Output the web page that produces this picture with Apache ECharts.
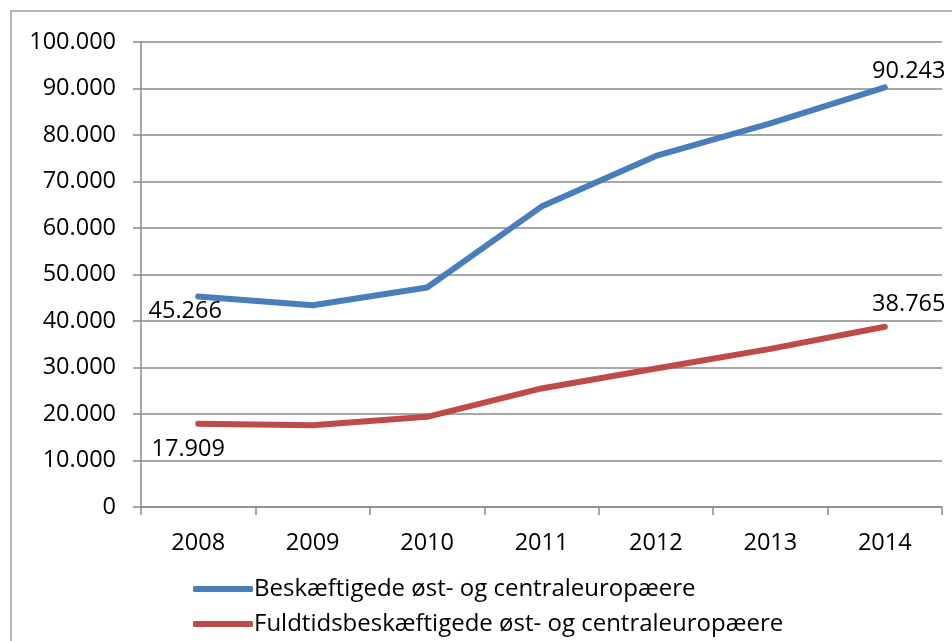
<!DOCTYPE html>
<html>
<head>
<meta charset="utf-8">
<script src="https://cdn.jsdelivr.net/npm/echarts@6/dist/echarts.min.js"></script>
<style>
  html, body { margin: 0; padding: 0; background: #fff; }
  #chart { width: 952px; height: 641px; }
</style>
</head>
<body>
<div id="chart"></div>
<script>
var years = ['2008', '2009', '2010', '2011', '2012', '2013', '2014'];
var beskaeftigede = [45266, 43400, 47200, 64600, 75500, 82500, 90243];
var fuldtid = [17909, 17600, 19400, 25500, 29800, 34000, 38765];
var seriesNames = [
    'Beskæftigede øst- og centraleuropæere',
    'Fuldtidsbeskæftigede øst- og centraleuropæere'
];

var FONT = '"Open Sans", "Liberation Sans", sans-serif';

// danish number format: 45.266
function fmt(v) {
    return String(Math.round(v)).replace(/\B(?=(\d{3})+(?!\d))/g, '.');
}

// only first and last points carry a label
function withLabels(values, firstOffset, lastOffset) {
    return values.map(function (v, i) {
        var item = { value: v };
        if (i === 0 || i === values.length - 1) {
            item.label = {
                show: true,
                position: 'inside',
                offset: i === 0 ? firstOffset : lastOffset,
                formatter: function (p) { return fmt(p.value); },
                color: '#000',
                fontFamily: FONT,
                fontSize: 23.5
            };
        }
        return item;
    });
}

var myChart = echarts.init(document.getElementById('chart'));
myChart.setOption({
    backgroundColor: '#fff',
    animation: false,
    graphic: [{
        type: 'rect',
        shape: { x: 11, y: 11, width: 1000, height: 700 },
        style: { fill: 'none', stroke: '#a0a0a0', lineWidth: 1.5 }
    }],
    grid: { left: 141, right: 10, top: 42, bottom: 134 },
    legend: {
        orient: 'vertical',
        left: 188,
        top: 572,
        itemWidth: 60,
        itemHeight: 6,
        itemGap: 11,
        icon: 'roundRect',
        textStyle: { fontFamily: FONT, fontSize: 24, color: '#000', padding: [0, 0, 0, -4] },
        data: seriesNames
    },
    xAxis: {
        type: 'category',
        data: years,
        boundaryGap: true,
        axisLine: { lineStyle: { color: '#8a8a8a', width: 1.5 } },
        axisTick: { show: true, length: 8, lineStyle: { color: '#8a8a8a', width: 1.5 } },
        axisLabel: { margin: 24, color: '#000', fontFamily: FONT, fontSize: 23.5 },
        splitLine: { show: false }
    },
    yAxis: {
        type: 'value',
        min: 0,
        max: 100000,
        interval: 10000,
        axisLine: { show: true, lineStyle: { color: '#8a8a8a', width: 1.5 } },
        axisTick: { show: true, length: 8, lineStyle: { color: '#8a8a8a', width: 1.5 } },
        axisLabel: { margin: 25, color: '#000', fontFamily: FONT, fontSize: 23.5, formatter: fmt },
        splitLine: { lineStyle: { color: '#8a8a8a', width: 1.5 } }
    },
    series: [
        {
            name: seriesNames[0],
            type: 'line',
            data: withLabels(beskaeftigede, [-13, 15], [24, -16]),
            symbol: 'circle',
            symbolSize: 1,
            lineStyle: { color: '#4A7EBB', width: 6, cap: 'round', join: 'round' },
            itemStyle: { color: '#4A7EBB' }
        },
        {
            name: seriesNames[1],
            type: 'line',
            data: withLabels(fuldtid, [-10, 26], [24, -22]),
            symbol: 'circle',
            symbolSize: 1,
            lineStyle: { color: '#BE4B48', width: 6, cap: 'round', join: 'round' },
            itemStyle: { color: '#BE4B48' }
        }
    ]
});
</script>
</body>
</html>
